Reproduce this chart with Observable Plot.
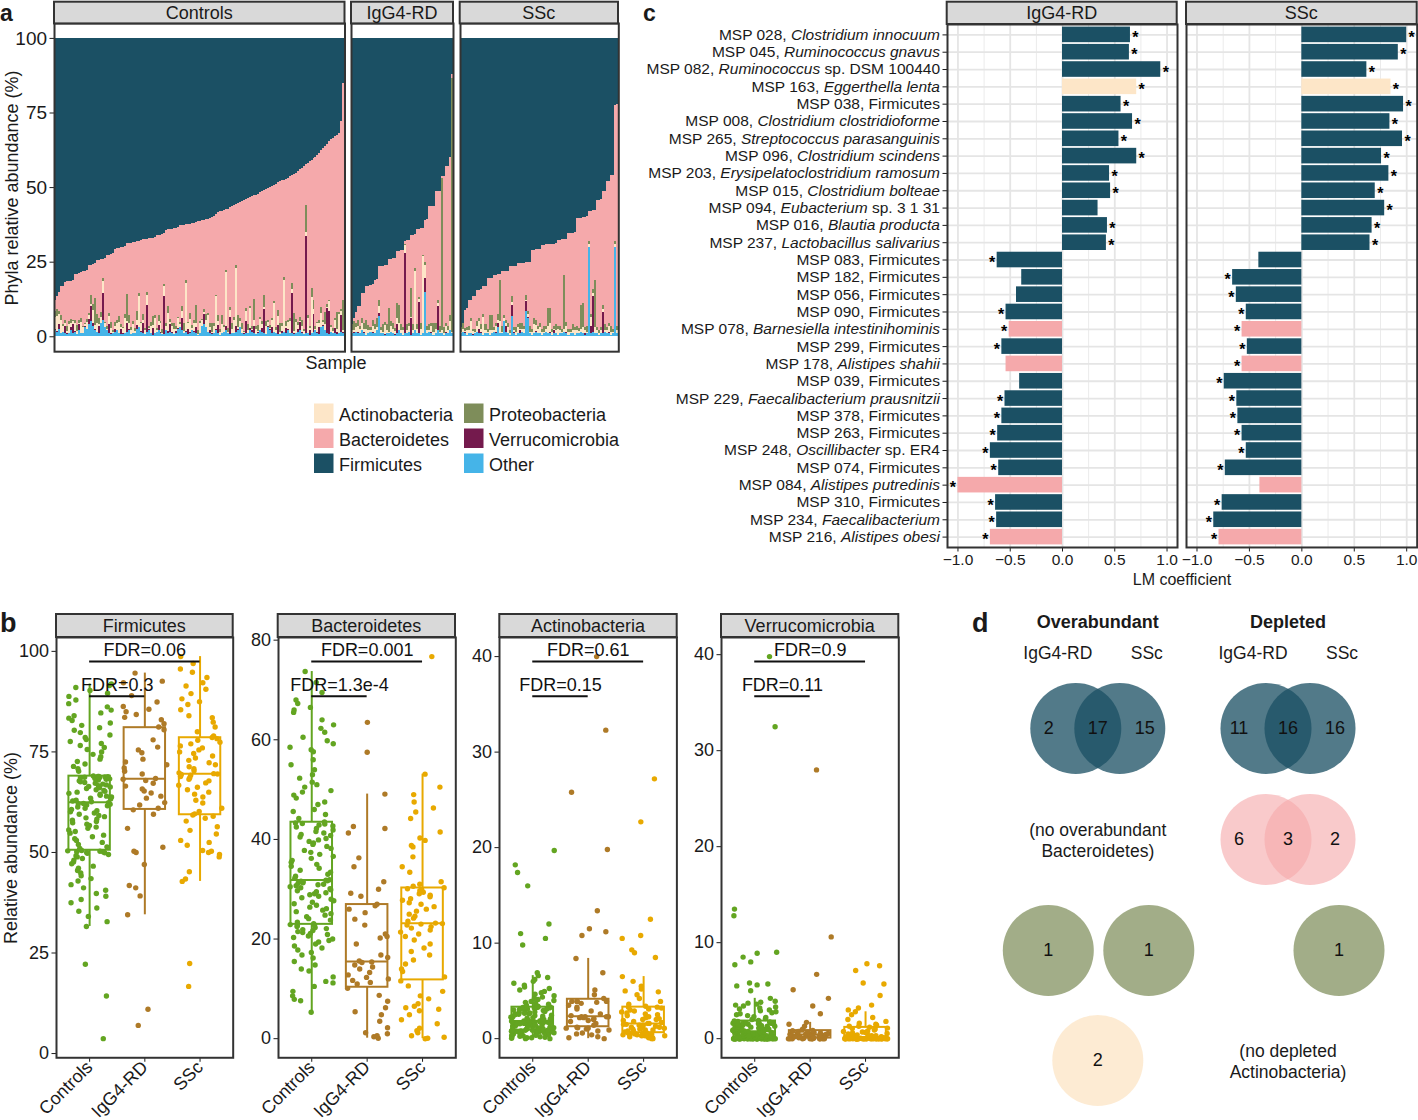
<!DOCTYPE html>
<html><head><meta charset="utf-8">
<script src="https://cdn.jsdelivr.net/npm/d3@7"></script>
<script src="https://cdn.jsdelivr.net/npm/@observablehq/plot@0.6"></script>
<style>
body{margin:0;background:#fff;}
#root{position:relative;width:1418px;height:1120px;overflow:hidden;background:#fff;}
</style></head><body><div id="root"></div><script>
// ================= DATA =================
const phyla = ["Actinobacteria","Bacteroidetes","Firmicutes","Proteobacteria","Verrucomicrobia","Other"];
const phylaColors = ["#FDE6C8","#F5A9AB","#1B5064","#7E8D5A","#741A4D","#45B4E8"];
const groups = ["Controls","IgG4-RD","SSc"];
const groupColors = ["#63a521","#ae7a27","#e8a900"];

// ---- panel a: per-sample composition (%), samples sorted by non-Firmicutes total ----
const nonFirmCtrl = [12,13.4,15,16.8,17,18.2,18.4,18.5,18.6,19,21,21,21.2,21.4,22,22,22.2,24,24,24.2,24.4,25.5,25.7,25.8,26,26.2,27.2,27.4,27.5,27.8,29.4,29.6,29.6,29.8,30,30.1,31.2,31.3,31.4,31.5,31.6,31.8,32,32.4,32.6,32.6,32.7,32.8,32.9,33,33.2,33.8,34,34.1,34.3,34.6,35.6,35.8,35.9,36,36.2,36.4,36.6,37.2,37.4,37.4,37.5,37.6,37.7,37.8,38,38.2,38.5,38.8,39,39.1,39.2,39.4,39.6,40,40.4,41,41.6,41.9,42,42.2,42.5,42.8,43.2,43.6,44,44.5,44.7,45,45.3,45.6,46,46.3,46.6,47,47.2,47.5,47.8,48.2,48.6,49,49.3,49.7,50,50.4,50.8,51.2,51.6,52,52.3,52.5,52.8,53.2,53.6,54,54.4,54.8,55.3,56,56.4,57,57.6,58.2,58.8,59.2,59.6,60,60.8,61.5,62.3,63,63.8,64.6,65.3,66,66.5,67,67.5,68.2,72,85];
const otherCtrl = [2,1.5,2.5,1,1.5,1,0.8,1.2,2,1,1.5,0.8,2,1,1.2,3,2.5,4,5,3.5,2,1.5,1,4.5,5.5,3,2,1,0.8,1.2,1.5,2,1,0.6,0.8,1,1.5,2,0.8,1,1.2,2.5,3,1.5,1,0.8,1.5,2,1,0.5,1,1.5,2,1.2,0.8,0.6,2,1,1.5,1,0.8,1,2.5,3,2,1,1.5,0.8,1,2,1.5,1,0.5,1,3.5,4,3,1.5,1,0.8,1.2,2,1,0.5,1,1.5,2,1,0.8,1.2,1,1.5,2,3,1,0.8,1.2,1,2,1.5,1,0.8,1.2,2,1.5,1,0.8,3,2,1,1.5,1,0.6,0.8,1.2,1.5,1,2,1.2,1,0.8,1,1.5,2,1,0.8,1,1.2,0.5,1,1.5,2,1,0.8,3,3.5,2,1,0.8,1.5,1,1.2,0.8,1,1.5,1];
const verrCtrl = [0.5,0.2,1.5,0,0,2.5,0.3,0,1,3.2,0.4,0,2,0.2,0,0.6,0,1.8,5,1,0.3,0,2.4,0,8.9,0.1,0,3,0.2,0,0.8,0.2,0,1.9,0.3,0,2.8,0.5,0,0.1,0,1.2,0,0.2,3.6,0,9,0.5,0,2.2,0.2,0,1.7,0.3,0,12.8,0,0.6,2.6,0.5,0,0.9,0.3,0,4,0,0.2,1.6,0.5,0,0.3,2.1,0,0.1,0,3.4,0.2,0,1.1,0.3,0,0.5,2.9,0,0.2,0,1.4,0,5.5,0,0,1.8,0.3,0,0.1,0.2,3.8,0,0.7,0.5,2.3,0,0.2,0,1.3,8,0,0.4,0.3,2,0,0.2,3.1,0,0.5,0,1.9,0.3,0,13.5,0.2,0,0.8,2.7,0.3,0,32.5,0,1.5,0.2,5.8,0,0.5,2.4,0,0.3,0,8.5,7.7,0,0.2,1.7,0.5,0,5.6,0.3];
const actCtrl = [4,5,3.5,4.5,2,1,0.5,3,1.5,0.8,2.5,1,0.6,3.5,1.8,0.4,2.2,1.2,0.9,4.2,1.5,3,0.7,2,4,1.3,0.5,2.8,1.9,0.3,1.1,2.4,3.8,0.6,1.6,5.2,0.8,2.1,1.4,3.1,0.5,1.7,10.5,2.6,0.9,1.2,3.4,0.4,2.3,1,4.8,0.7,1.5,2.9,0.3,3.6,1.3,6.2,0.8,2,1.6,0.5,3.2,1.1,2.5,0.6,16,1.9,4.4,0.9,2.7,1.4,0.2,3.3,1.8,0.7,2.2,5.6,1,0.4,2.4,11,1.2,0.8,3,1.6,18.2,0.5,2.6,1.3,4.6,19.7,0.9,2,1.5,0.3,3.5,1.1,6.8,0.6,2.1,1.7,0.4,3.9,1.2,0.8,2.8,1.4,0.5,2.4,9.8,1,3.1,0.7,1.9,17.4,0.6,2.5,4,1.3,0.8,3.7,1.6,0.4,2.2,1.1,1.5,5,0.7,12,1.8,0.5,2.9,1.2,4.9,0.9,2,0.3,3.2,1.5,0.6,2.7,1,6.3,1.4,0.8];
const proCtrl = [2,2.5,1,1.5,0.5,1,2,0.8,1.2,0.5,1,2,0.8,1.5,0.6,0.5,1,0.8,3,2,9,3,2,1.5,1,0.5,0.8,1,2,0.6,1.5,0.8,2,1,0.5,1.2,9,2.5,1,0.8,1.2,3,1,0.5,2,0.8,1,0.6,1.5,3,1,0.5,2,0.8,1.2,0.5,1,2.5,0.8,1,2,1,0.5,0.8,1.5,3,1,0.6,2,1,1,6,1.5,0.8,0.5,1,2,0.8,1.2,3,1,0.5,2,1,3,0.8,0.5,1.2,1,2,1,0.8,4,1,2,0.5,1,2,0.8,1,7,1,2,0.5,1,4,1.5,0.8,1,0.6,0.5,1,2,3,1,0.8,1.5,0.5,1,2,6,1,0.8,1.2,2,0.5,9,1,0.8,3,3,1,0.5,1.2,2,0.8,4,1,0.5,0.8,1,0.6,6,1,0.8,10];

const nonFirmIg = [4,6,8,10,10.3,14.5,14.6,17,17,17.2,17.4,19,19.2,23.5,23.5,23.6,23.8,24,26,26,26.2,26.4,28.5,28.6,28.8,29,32,32.2,32.4,34,34,34.2,36,36,36.2,36.4,39,39.2,43.6,43.6,43.8,48.6,48.6,48.8,53.6,53.8,57,57.2,60,88];
const otherIg = [1,1,1.5,1,1,2,1,0.5,1,1.5,1,1,2,6.7,1,1,0.5,1,1,1.5,1,0.5,1,2,1,0.5,1,1,1.5,0.5,1,2,1,1,0.5,1,15,1,1.5,1,0.5,1,2,1,1,0.5,1,1,2,1];
const verrIg = [0,0.5,0,0.3,0,0,0.5,0,0.2,0,0.5,0,0,1,0,0,0.3,0,0,0,0,0.2,3,0,0,0,27,0,0,5.5,0,0,0,10.6,0,0,4.5,0,0,0.3,0,0,8,0,0,0,0.5,0,0,0];
const actIg = [1,0.5,1.5,2,1.5,2.5,1,2,1,0.5,2,1.5,1,2.5,1,0.5,3,1,0.5,2,1.5,1,2,2.5,1,1.5,2.5,1,2,0.5,1,20,1.5,1,2,25.8,4.5,1,0.5,2,1,1.5,1,0.5,1,0.5,2,1,3,0.5];
const proIg = [2,3,1.5,2,1,1.5,2,3,1.5,1,2,1.5,3,2,1,2.5,1,2,8,1.5,2,1,5,6,2,1,0.5,2,1,9.6,2,1,1.5,0.5,2,0.5,1,1.5,2,1,3,2,1,2,51,2,1,1.5,2,85];

const nonFirmSsc = [2,4.5,8.8,9.4,12,12.2,13.4,13.5,15.6,15.6,15.8,16.8,16.9,19.5,19.5,19.6,20.7,20.7,20.8,20.9,21.8,21.8,21.9,22,23.5,23.5,23.6,23.7,24.6,24.6,24.6,24.7,24.8,24.8,24.9,29,29,29.1,29.2,29.3,30.7,30.7,30.8,30.8,30.9,31,31,31.1,32.4,32.4,32.5,32.6,32.7,34.6,34.6,34.7,34.8,39.7,39.7,39.8,39.9,40,40.2,42,42,42.2,42.4,45.8,45.8,46,48.6,48.7,52,52.2,54,54.2,77.5,78];
const otherSsc = [1,1.5,1,0.5,1,1,0.5,1,1.5,1,1,0.5,1,1,0.5,1,1.5,1,3,1,1,5,1.5,1,0.5,6.7,1,0.5,1,1,1.5,1,8.4,6,1,0.5,1,1.5,1,1,0.5,1,1.5,1,1,0.5,1,1,0.5,1,1,1.5,1,0.5,1,1,0.5,1,1,1.5,1,0.5,1,30,1,1.5,1,1,0.5,1,1,1.5,1,1,0.5,1,30,1];
const verrSsc = [0,0,0.3,0,0,0,0.2,0,0,1.5,0.5,0,0,0,0,0,0,0.3,1.5,0,0,0,2,0,0,3.9,0.5,0,0,1,0,0,3.3,0.5,0,0,0,0.3,0,0,0,0,0,0,0.5,0,1,0,0,0,0,0,0.3,0,0,0,0,0,0.2,0,0,0.5,0,0,2.5,12,0,0,0,0,7,0,0,0.5,0,0,0,0];
const actSsc = [0.5,1,0.5,1.5,1,4,1,0.5,2,2.5,1,6,1,0.5,1.5,1,0.5,2,1,4,0.5,1,1,2,0.5,1,0.5,1,2,0.5,1,1.5,0.5,1,0.5,1,3,2,1.5,2,1,0.5,1,2.5,3,1,0.5,1,2,1,0.5,1,2,1,0.5,1,1.5,1,0.5,1,2,1,0.5,1,3,1,2,1,0.5,1,1,0.5,1,2,1,0.5,1,1];
const proSsc = [1.5,2,1,1,1.5,1,0.8,1,1.5,1,1.5,1,2,1,5,5,1,1,2,14,2,1,1,1.5,1,2,1,1.5,1,2,2,1,1.7,1,2,1,2,1.5,1,1.5,1,2,1,6,5,1,1,2,1,1.5,1,18,1.5,1,1,2,1,1.5,1,8,8,1,2,1,1,1.5,16,1,1,1,1.5,2,1,1,2,1,1,1.5];

// ---- panel b: relative abundance (%) per sample ----
const bPhyla = ["Firmicutes","Bacteroidetes","Actinobacteria","Verrucomicrobia"];
const fdrTop = ["0.06","0.001","0.61","0.9"];
const fdrBottom = ["0.3","1.3e-4","0.15","0.11"];
const firmCtrlB = [3.7,14.3,22.2,31.6,32.8,34.1,35.4,36.2,37.5,38.3,39.1,39.8,40.6,41.2,42,42.9,43.5,44.2,44.9,45.5,46.1,46.6,47.2,47.6,48.1,48.5,48.9,49.2,49.5,49.8,49.9,50,50.1,50.2,50.3,50.4,50.5,50.7,51,51.4,52,52.5,53,53.4,53.9,54.3,54.8,55.2,55.6,56,56.3,56.7,57,57.4,57.7,58,58.3,58.6,58.9,59.2,59.5,59.8,60.1,60.4,60.7,61,61.3,61.6,61.8,62,62.1,62.2,62.4,62.6,62.8,63,63.3,63.5,63.8,64,64.2,64.5,64.7,65,65.2,65.4,65.6,65.9,66.1,66.3,66.4,66.6,66.8,67,67.2,67.4,67.6,67.8,68,68.2,68.3,68.4,68.5,68.6,68.7,68.8,68.85,68.9,68.9,69,70.2,70.8,71.4,72,72.6,73.2,73.8,74.4,75,75.6,76.1,76.6,77.1,77.6,78.1,78.6,79.2,79.8,80.4,81,81.6,82.2,82.8,83.4,84,84.7,85.4,86.2,87,87.9,88.8,89.6,90.3,91,91.5,91.9];
const firmIgB = [7,11,34.5,39.2,41.2,41.8,47,50,50.3,51.3,56,59.5,60.6,61,61.8,62.4,63.5,64,64.8,65.3,65.8,66.5,67.2,67.9,68.2,68.4,69.5,70.2,71,71.8,72.5,73.2,74.8,75.5,76.2,78,80.5,81.2,82,83,83.6,84.3,85,85.6,86.3,87.4,89,92.2,92.6,94.6];
const firmSscB = [16.7,22.4,42.8,43.4,45.2,48.9,49.5,50,50.3,50.5,51.8,52.5,53,54.6,55.5,56.4,57.8,58.5,59,59.3,59.6,60.2,61,62.3,63,63.8,64.5,65,65.6,66.2,66.7,67.3,67.8,68.2,68.6,68.9,69.2,69.4,69.5,69.6,69.8,70.3,70.8,71.3,71.8,72.3,72.9,73.5,74,74.6,75,75.5,76,76.5,77,77.4,77.9,78.3,78.6,79,80,81.2,82.4,83.5,84,85.5,86.8,87.5,88.2,89.5,90.6,91.4,92.2,93.5,94.8,95.6,97,98.7];
const bactCtrlB = [5.3,7.6,7.9,8.6,9.5,10.5,11.2,11.5,12.4,13.6,14,14.8,15.5,16.2,16.8,17.3,17.8,18.2,18.6,19,19.4,19.7,20,20.3,20.6,20.9,21.1,21.3,21.5,21.7,21.9,22.1,22.3,22.5,22.7,22.8,22.9,23.1,23.4,23.8,24.1,24.5,24.8,25.1,25.5,25.8,26.1,26.4,26.8,27.1,27.4,27.7,28,28.3,28.6,28.9,29.1,29.3,29.5,29.7,29.9,30.1,30.3,30.5,30.7,30.9,31,31.2,31.3,31.5,31.6,31.7,31.8,31.9,32.2,32.6,33,33.4,33.8,34.2,34.6,35,35.4,35.8,36.2,36.6,37,37.4,37.8,38.2,38.6,39,39.3,39.6,39.9,40.2,40.5,40.8,41,41.3,41.6,41.9,42.2,42.5,42.7,42.9,43.1,43.2,43.3,43.5,44.2,45,45.6,46,47,47.5,48.3,48.9,49.5,49.8,50.5,51,51.5,52.3,53,54,55,56,57.6,58,58.5,59.2,59.8,60.5,61.5,62.3,63,64,65.5,66,66.5,67.3,68,69.5,71.5,73.7];
const bactIgB = [0.1,0.4,0.6,1,1.2,2.2,3.5,4.8,5.4,6.2,7.5,8.7,10.1,11,11.3,11.7,12,12.3,12.8,13.3,14,14.4,14.8,15.3,15.4,15.6,16.3,16.8,19,20.2,20.5,21,22.8,24,25.3,26,26.7,27,28.6,29.2,30,31.5,34.5,36.3,41.3,42.2,42.6,49.1,57.5,63.5];
const bactSscB = [0,0.1,0.3,0.6,1.2,1.6,2.1,3,3.8,4.8,5.6,5.9,6.2,6.5,7,8,8.6,9.5,10.6,11.6,12.4,13.5,14,15,15.8,16.8,17.5,18.2,19,19.8,20.5,21,21.4,21.8,22.2,22.5,22.8,23,23.1,23.2,23.6,24.2,24.6,25,25.6,26,26.5,27,27.3,27.8,28.1,28.5,28.8,29.1,29.4,29.7,29.9,30.1,30.3,30.6,31,31.5,33.4,34.5,36.5,38.5,38.8,39.8,40.3,41.5,44.2,45.5,46.3,47.5,49,50.5,53.1,76.7];
const actCtrlB = [0,0,0.05,0.1,0.1,0.15,0.2,0.2,0.25,0.3,0.3,0.35,0.4,0.4,0.45,0.5,0.5,0.55,0.6,0.6,0.62,0.65,0.68,0.7,0.72,0.74,0.76,0.78,0.8,0.82,0.84,0.85,0.86,0.87,0.88,0.89,0.9,0.92,0.95,0.98,1,1.05,1.1,1.12,1.15,1.2,1.24,1.28,1.3,1.34,1.38,1.42,1.45,1.5,1.52,1.55,1.6,1.62,1.65,1.68,1.7,1.72,1.74,1.76,1.78,1.8,1.81,1.82,1.83,1.84,1.85,1.86,1.87,1.9,1.95,2,2.05,2.1,2.15,2.2,2.25,2.3,2.35,2.4,2.45,2.5,2.55,2.6,2.65,2.7,2.75,2.8,2.85,2.9,2.95,3,3.05,3.1,3.15,3.2,3.22,3.24,3.26,3.28,3.3,3.3,3.3,3.32,3.34,3.4,3.5,3.6,3.7,3.8,3.9,4,4.1,4.2,4.35,4.5,4.65,4.8,4.95,5.1,5.25,5.4,5.6,5.8,6,6.2,6.4,6.6,6.9,9.8,10.5,11,12,16,17.4,18.2,19.7,2.6,1.4,0.7,3.1,1.1];
const actIgB = [0,0.1,0.2,0.4,0.5,0.6,0.8,0.9,1,1.1,1.1,1.15,1.2,1.4,1.6,1.8,1.9,2,2.1,2.2,2.2,2.3,2.3,2.3,2.3,2.4,2.6,2.9,3.1,3.3,3.5,3.7,3.8,3.9,3.9,3.9,3.9,4.2,4.6,5.1,6.9,8.4,10.8,11.2,11.5,13.4,19.8,25.8,32.3,40];
const actSscB = [0,0,0.1,0.1,0.2,0.2,0.3,0.3,0.3,0.4,0.4,0.4,0.5,0.5,0.5,0.5,0.6,0.6,0.6,0.6,0.7,0.7,0.8,0.8,0.9,0.9,1,1,1.1,1.1,1.2,1.2,1.3,1.3,1.4,1.4,1.5,1.5,1.6,1.6,1.7,1.8,1.9,2,2,2.1,2.2,2.3,2.4,2.5,2.6,2.7,2.8,2.9,3,3.1,3.2,3.3,3.3,3.4,3.6,3.9,4.2,4.6,4.9,5,5.2,5.5,6,6.5,8.5,9,9.3,10.5,10.8,12.5,22.7,27.2];
const verCtrlB = [0,0,0,0,0,0,0,0,0,0,0,0,0,0,0,0,0,0,0,0,0,0,0,0,0,0,0,0,0,0,0,0,0,0,0.05,0.05,0.05,0.05,0.1,0.1,0.15,0.15,0.2,0.2,0.2,0.25,0.25,0.3,0.3,0.3,0.35,0.35,0.4,0.4,0.4,0.45,0.45,0.5,0.5,0.5,0.55,0.55,0.6,0.6,0.6,0.65,0.65,0.7,0.7,0.7,0.75,0.75,0.8,0.8,0.85,0.85,0.9,0.95,1,1,1.05,1.1,1.1,1.15,1.2,1.2,1.25,1.3,1.3,1.35,1.4,1.4,1.45,1.5,1.5,1.55,1.55,1.6,1.6,1.6,1.6,1.6,1.62,1.65,1.7,1.75,1.8,1.85,1.9,2,2.1,2.2,2.3,2.4,2.5,2.6,2.7,2.8,2.9,3,3.1,3.2,3.3,3.4,3.5,3.6,3.7,3.8,3.9,4.2,5,5.5,5.6,5.7,5.8,7.7,8,8.5,8.9,9,12.8,13.5,32.5,39.8,0.3,1.2];
const verIgB = [0,0,0,0,0,0,0,0,0,0,0,0.05,0.05,0.1,0.1,0.15,0.2,0.2,0.25,0.3,0.3,0.35,0.35,0.4,0.4,0.45,0.45,0.5,0.5,0.55,0.6,0.6,0.65,0.7,0.75,0.8,0.8,0.85,0.9,1,1.3,1.5,1.7,2.6,3.4,4.2,5.1,6.7,10.6,28];
const verSscB = [0,0,0,0,0,0,0,0,0,0,0,0,0,0,0,0,0,0,0,0,0,0,0,0,0,0,0,0,0,0,0,0.05,0.05,0.1,0.1,0.1,0.15,0.15,0.15,0.2,0.2,0.25,0.3,0.3,0.35,0.4,0.45,0.5,0.55,0.6,0.65,0.7,0.75,0.8,0.9,1,1.05,1.1,1.2,1.3,1.3,1.4,1.5,1.6,1.8,2,2.2,2.5,2.8,3,3.2,3.5,4.5,5.7,5.8,7.1,7.6,7.8];

// ---- panel c: LM coefficients ----
const cLabels = ["MSP 028, _Clostridium innocuum_","MSP 045, _Ruminococcus gnavus_","MSP 082, _Ruminococcus_ sp. DSM 100440","MSP 163, _Eggerthella lenta_","MSP 038, Firmicutes","MSP 008, _Clostridium clostridioforme_","MSP 265, _Streptococcus parasanguinis_","MSP 096, _Clostridium scindens_","MSP 203, _Erysipelatoclostridium ramosum_","MSP 015, _Clostridium bolteae_","MSP 094, _Eubacterium_ sp. 3 1 31","MSP 016, _Blautia producta_","MSP 237, _Lactobacillus salivarius_","MSP 083, Firmicutes","MSP 182, Firmicutes","MSP 056, Firmicutes","MSP 090, Firmicutes","MSP 078, _Barnesiella intestinihominis_","MSP 299, Firmicutes","MSP 178, _Alistipes shahii_","MSP 039, Firmicutes","MSP 229, _Faecalibacterium prausnitzii_","MSP 378, Firmicutes","MSP 263, Firmicutes","MSP 248, _Oscillibacter_ sp. ER4","MSP 074, Firmicutes","MSP 084, _Alistipes putredinis_","MSP 310, Firmicutes","MSP 234, _Faecalibacterium_","MSP 216, _Alistipes obesi_"];
const cPhylum = ["Firmicutes","Firmicutes","Firmicutes","Actinobacteria","Firmicutes","Firmicutes","Firmicutes","Firmicutes","Firmicutes","Firmicutes","Firmicutes","Firmicutes","Firmicutes","Firmicutes","Firmicutes","Firmicutes","Firmicutes","Bacteroidetes","Firmicutes","Bacteroidetes","Firmicutes","Firmicutes","Firmicutes","Firmicutes","Firmicutes","Firmicutes","Bacteroidetes","Firmicutes","Firmicutes","Bacteroidetes"];
const igCoef = [0.65,0.64,0.94,0.71,0.56,0.67,0.54,0.71,0.45,0.46,0.34,0.43,0.42,-0.625,-0.39,-0.44,-0.54,-0.51,-0.58,-0.54,-0.41,-0.55,-0.58,-0.62,-0.69,-0.61,-1.0,-0.64,-0.63,-0.69];
const sscCoef = [1.0,0.92,0.62,0.85,0.97,0.84,0.96,0.76,0.83,0.70,0.79,0.67,0.65,-0.41,-0.66,-0.625,-0.53,-0.57,-0.52,-0.57,-0.74,-0.62,-0.61,-0.57,-0.53,-0.73,-0.40,-0.76,-0.84,-0.79];
const igStar = [1,1,1,1,1,1,1,1,1,1,0,1,1,1,0,0,1,1,1,0,0,1,1,1,1,1,1,1,1,1];
const sscStar = [1,1,1,1,1,1,1,1,1,1,1,1,1,0,1,1,1,1,1,1,1,1,1,1,1,1,0,1,1,1];

// ---- panel d: Venn counts (IgG4-RD only, both, SSc only) ----
const vennPhyla = ["Firmicutes","Bacteroidetes","Proteobacteria","Actinobacteria"];
const overIgOnly = [2,0,1,0], overBoth = [17,0,0,2], overSscOnly = [15,0,1,0];
const deplIgOnly = [11,6,0,0], deplBoth = [16,3,0,0], deplSscOnly = [16,2,1,0];

// ================= DRAWING =================
const root = document.getElementById("root");
const FONT = '"Liberation Sans", Arial, Helvetica, sans-serif';
const TXT = "#1a1a1a";

function plotAt(frame, m, opts) {
  const w = frame.x2 - frame.x1, h = frame.y2 - frame.y1;
  const svg = Plot.plot({
    width: m.l + w + m.r, height: m.t + h + m.b,
    marginLeft: m.l, marginRight: m.r, marginTop: m.t, marginBottom: m.b,
    style: {fontFamily: FONT, fontSize: "18px", color: TXT, background: "transparent", overflow: "visible"},
    ...opts,
    marks: opts.marks.filter(Boolean)
  });
  svg.style.position = "absolute";
  svg.style.left = (frame.x1 - m.l) + "px";
  svg.style.top = (frame.y1 - m.t) + "px";
  svg.style.maxWidth = "none";
  root.appendChild(svg);
  return svg;
}

// ---------- panel a ----------
const aSets = [[nonFirmCtrl, otherCtrl, verrCtrl, actCtrl, proCtrl],[nonFirmIg, otherIg, verrIg, actIg, proIg],[nonFirmSsc, otherSsc, verrSsc, actSsc, proSsc]];
const aFrames = [[54,344.5],[351,453],[459.7,618]];
aSets.forEach(([tot, oth, ver, act, pro], gi) => {
  const rows = [];
  tot.forEach((t, i) => {
    const m = [["Other", oth[i]], ["Verrucomicrobia", ver[i]], ["Actinobacteria", act[i]], ["Proteobacteria", pro[i]]];
    const ms = d3.sum(m, d => d[1]);
    m.forEach(([p, v]) => rows.push({s: i, p, v: v || 0}));
    const top = Math.max(t, ms);
    rows.push({s: i, p: "Bacteroidetes", v: top - ms});
    rows.push({s: i, p: "Firmicutes", v: 100 - top});
  });
  const [x1, x2] = aFrames[gi];
  plotAt({x1, x2, y1: 23.4, y2: 351.6}, {l: gi === 0 ? 54 : 1, r: 1, t: 1, b: 1}, {
    x: {type: "band", domain: d3.range(tot.length), paddingInner: 0, paddingOuter: 0.1, round: false, axis: null},
    y: gi === 0 ? {domain: [-5, 105]} : {domain: [-5, 105], axis: null},
    color: {domain: phyla, range: phylaColors},
    marks: [
      Plot.barY(rows, {x: "s", y: "v", fill: "p", shapeRendering: "crispEdges"}),
      gi === 0 ? Plot.axisY({ticks: [0, 25, 50, 75, 100], tickSize: 4.5, tickPadding: 3, label: null, fontSize: 19}) : null,
      Plot.frame({stroke: "#333", strokeWidth: 2})
    ]
  });
});

// ---------- panel b ----------
function boxStats(vals) {
  const s = Float64Array.from(vals).sort();
  const q1 = d3.quantileSorted(s, 0.25), med = d3.quantileSorted(s, 0.5), q3 = d3.quantileSorted(s, 0.75);
  const iqr = q3 - q1;
  const lo = d3.min(s.filter(v => v >= q1 - 1.5 * iqr)), hi = d3.max(s.filter(v => v <= q3 + 1.5 * iqr));
  return {q1, med, q3, lo, hi};
}
// deterministic horizontal jitter (layout only), +/-0.4 of a category step
const jit = (j, k) => { const h = Math.sin(j * 12.9898 + k * 78.233 + 1.7) * 43758.5453; return (h - Math.floor(h) - 0.5) * 0.8; };
const bVals = [[firmCtrlB, firmIgB, firmSscB],[bactCtrlB, bactIgB, bactSscB],[actCtrlB, actIgB, actSscB],[verCtrlB, verIgB, verSscB]];
const bTickVals = [[0,25,50,75,100],[0,20,40,60,80],[0,10,20,30,40],[0,10,20,30,40]];
const bFrames = [[56,232.7],[277.7,455],[499.3,676.7],[721,898.3]];
bPhyla.forEach((name, fi) => {
  const [x1, x2] = bFrames[fi];
  const pts = [], boxes = [];
  bVals[fi].forEach((vals, gi) => {
    vals.forEach((v, j) => pts.push({x: gi + jit(j, gi * 7 + fi * 3), v, c: groupColors[gi]}));
    boxes.push({gi, c: groupColors[gi], ...boxStats(vals)});
  });
  const [mn, mx] = d3.extent(bVals[fi].flat());
  const pad = (mx - mn) * 0.05, dom = [mn - pad, mx + pad];
  const top = 637, bot = 1057.3;
  const yAt = py => dom[1] - (py - top) / (bot - top) * (dom[1] - dom[0]);
  const fdr = [{x1: 0, x2: 2, y: yAt(661), t: "FDR=" + fdrTop[fi]}, {x1: 0, x2: 1, y: yAt(695.7), t: "FDR=" + fdrBottom[fi]}];
  plotAt({x1, x2, y1: top, y2: bot}, {l: 55, r: 2, t: 2, b: 80}, {
    x: {domain: [-0.6, 2.6]},
    y: {domain: dom},
    color: {type: "identity"},
    marks: [
      Plot.ruleX(boxes, {x: "gi", y1: "q3", y2: "hi", stroke: "c", strokeWidth: 2}),
      Plot.ruleX(boxes, {x: "gi", y1: "lo", y2: "q1", stroke: "c", strokeWidth: 2}),
      Plot.rect(boxes, {x1: d => d.gi - 0.375, x2: d => d.gi + 0.375, y1: "q1", y2: "q3", fill: "none", stroke: "c", strokeWidth: 2}),
      Plot.ruleY(boxes, {x1: d => d.gi - 0.375, x2: d => d.gi + 0.375, y: "med", stroke: "c", strokeWidth: 2}),
      Plot.dot(pts, {x: "x", y: "v", r: 2.7, fill: "c"}),
      Plot.ruleY(fdr, {x1: "x1", x2: "x2", y: "y", stroke: "#111", strokeWidth: 2}),
      Plot.text(fdr, {x: d => (d.x1 + d.x2) / 2, y: "y", text: "t", dy: -11, fontSize: 18, fill: "#111"}),
      Plot.axisY({ticks: bTickVals[fi], tickSize: 4.5, tickPadding: 3, label: null, fontSize: 18}),
      Plot.axisX({ticks: [0, 1, 2], tickFormat: i => groups[i], tickRotate: -45, tickSize: 4.5, tickPadding: 2, label: null, fontSize: 18}),
      Plot.frame({stroke: "#333", strokeWidth: 2})
    ]
  });
});

// ---------- panel c ----------
const cExt = d3.extent([...igCoef, ...sscCoef]);
const cPad = (cExt[1] - cExt[0]) * 0.05;
const cDom = [cExt[0] - cPad, cExt[1] + cPad];
[[igCoef, igStar, 946.7, 1176.7], [sscCoef, sscStar, 1186, 1416.7]].forEach(([coef, star, x1, x2], k) => {
  const rows = cLabels.map((l, i) => ({l, p: cPhylum[i], v: coef[i], s: star[i]}));
  const svg = plotAt({x1, x2, y1: 24, y2: 547}, {l: k === 0 ? 330 : 2, r: 2, t: 2, b: 40}, {
    x: {domain: cDom},
    y: k === 0 ? {type: "band", domain: cLabels, paddingInner: 0.1, paddingOuter: 0.15, round: false}
               : {type: "band", domain: cLabels, paddingInner: 0.1, paddingOuter: 0.15, round: false, axis: null},
    color: {domain: phyla, range: phylaColors},
    marks: [
      Plot.gridX({ticks: [-0.75, -0.25, 0.25, 0.75], stroke: "#ebebeb", strokeOpacity: 1, strokeWidth: 1}),
      Plot.gridX({ticks: [-1, -0.5, 0, 0.5, 1], stroke: "#e5e5e5", strokeOpacity: 1, strokeWidth: 1.8}),
      Plot.gridY({stroke: "#e5e5e5", strokeOpacity: 1, strokeWidth: 1.8}),
      Plot.barX(rows, {x: "v", y: "l", fill: "p"}),
      Plot.text(rows.filter(d => d.s && d.v > 0), {x: "v", y: "l", text: () => "*", dx: 5, dy: 3, fontSize: 16, fontWeight: "bold", fill: "#000"}),
      Plot.text(rows.filter(d => d.s && d.v < 0), {x: "v", y: "l", text: () => "*", dx: -5, dy: 3, fontSize: 16, fontWeight: "bold", fill: "#000"}),
      k === 0 ? Plot.axisY({tickSize: 4.5, tickPadding: 3, label: null, fontSize: 15.5}) : null,
      Plot.axisX({ticks: [-1, -0.5, 0, 0.5, 1], tickFormat: d3.format(".1f"), tickSize: 4.5, tickPadding: 2, label: null, fontSize: 15.5}),
      Plot.frame({stroke: "#333", strokeWidth: 2})
    ]
  });
  if (k === 0) {
    svg.querySelectorAll('g[aria-label="y-axis tick label"] text').forEach(t => {
      const s = t.textContent;
      t.textContent = "";
      t.style.whiteSpace = "pre";
      s.split("_").forEach((part, j) => {
        if (!part) return;
        const ts = document.createElementNS("http://www.w3.org/2000/svg", "tspan");
        if (j % 2 === 1) ts.setAttribute("font-style", "italic");
        ts.textContent = part;
        t.appendChild(ts);
      });
    });
  }
});

// ---------- panel d ----------
{
  const circles = [], labels = [], notes = [];
  const colX = [1097.3, 1287.5], rowY = [728, 839, 950, 1060];
  const opac = {Firmicutes: 0.76, Bacteroidetes: 0.62, Proteobacteria: 0.72, Actinobacteria: 0.8};
  vennPhyla.forEach((p, pi) => {
    [[overIgOnly, overBoth, overSscOnly, "overabundant"], [deplIgOnly, deplBoth, deplSscOnly, "depleted"]].forEach(([A, B, C, word], ci) => {
      const a = A[pi], b = B[pi], c = C[pi], cx = colX[ci], cy = rowY[pi];
      if (a + b + c === 0) { notes.push({x: cx, y: cy, t: `(no ${word}\n${p})`}); return; }
      if (b > 0 && a + c > 0) {
        circles.push({x: cx - 22, y: cy, p}, {x: cx + 22, y: cy, p});
        labels.push({x: cx - 49, y: cy, t: String(a)}, {x: cx, y: cy, t: String(b)}, {x: cx + 47, y: cy, t: String(c)});
      } else if (b > 0) {
        circles.push({x: cx, y: cy, p}); labels.push({x: cx, y: cy, t: String(b)});
      } else {
        if (a > 0) { circles.push({x: cx - 49.5, y: cy, p}); labels.push({x: cx - 49.5, y: cy, t: String(a)}); }
        if (c > 0) { circles.push({x: cx + 51, y: cy, p}); labels.push({x: cx + 51, y: cy, t: String(c)}); }
      }
    });
  });
  const heads = [{x: colX[0], t: "Overabundant"}, {x: colX[1], t: "Depleted"}];
  const sets = [{x: colX[0] - 40, t: "IgG4-RD"}, {x: colX[0] + 49, t: "SSc"}, {x: colX[1] - 35, t: "IgG4-RD"}, {x: colX[1] + 54, t: "SSc"}];
  plotAt({x1: 960, x2: 1418, y1: 600, y2: 1120}, {l: 0, r: 0, t: 0, b: 0}, {
    x: {domain: [960, 1418], range: [0, 458], axis: null},
    y: {domain: [600, 1120], range: [0, 520], axis: null},
    color: {domain: phyla, range: phylaColors},
    marks: [
      Plot.dot(circles, {x: "x", y: "y", r: 45.5, fill: "p", fillOpacity: d => opac[d.p], stroke: null}),
      Plot.text(labels, {x: "x", y: "y", text: "t", fontSize: 18, fill: "#111"}),
      Plot.text(notes, {x: "x", y: "y", text: "t", fontSize: 17.5, lineHeight: 1.2, fill: TXT}),
      Plot.text(heads, {x: "x", y: () => 621.5, text: "t", fontSize: 18, fontWeight: "bold", fill: TXT}),
      Plot.text(sets, {x: "x", y: () => 653, text: "t", fontSize: 17.5, fill: TXT})
    ]
  });
}

// ---------- overlay: strips, titles, legend ----------
const ov = d3.select(root).append("svg").attr("width", 1418).attr("height", 1120)
  .style("position", "absolute").style("left", "0px").style("top", "0px").style("pointer-events", "none")
  .attr("font-family", FONT).attr("fill", TXT);
function T(x, y, s, o = {}) {
  const t = ov.append("text").attr("x", x).attr("y", y).text(s).attr("font-size", o.size || 18).attr("text-anchor", o.anchor || "start");
  if (o.weight) t.attr("font-weight", o.weight);
  if (o.rot) t.attr("transform", `rotate(${o.rot},${x},${y})`);
  return t;
}
function stripBox(x1, x2, y1, y2, label) {
  ov.append("rect").attr("x", x1).attr("y", y1).attr("width", x2 - x1).attr("height", y2 - y1).attr("fill", "#d9d9d9").attr("stroke", "#333").attr("stroke-width", 2);
  T((x1 + x2) / 2, (y1 + y2) / 2 + 6.4, label, {anchor: "middle", size: 18});
}
groups.forEach((g, i) => stripBox(aFrames[i][0], aFrames[i][1], 1.7, 23.4, g));
bPhyla.forEach((p, i) => stripBox(bFrames[i][0], bFrames[i][1], 614, 637, p));
stripBox(946.7, 1176.7, 1.7, 24, "IgG4-RD");
stripBox(1186, 1416.7, 1.7, 24, "SSc");

T(0, 21, "a", {size: 23, weight: "bold"});
T(0, 632, "b", {size: 27, weight: "bold"});
T(643, 21, "c", {size: 23, weight: "bold"});
T(972, 632, "d", {size: 27, weight: "bold"});
T(336, 369, "Sample", {anchor: "middle"});
T(18, 188, "Phyla relative abundance (%)", {anchor: "middle", rot: -90});
T(17, 848, "Relative abundance (%)", {anchor: "middle", rot: -90});
T(1182, 585, "LM coefficient", {anchor: "middle", size: 16});

// legend for panel a
phyla.forEach((p, i) => {
  const col = Math.floor(i / 3), row = i % 3;
  const sx = 314 + col * 150, sy = 403.5 + row * 25;
  ov.append("rect").attr("x", sx).attr("y", sy).attr("width", 19.5).attr("height", 19.5).attr("fill", phylaColors[i]);
  T(sx + 25, sy + 17, p, {size: 18});
});
</script></body></html>
